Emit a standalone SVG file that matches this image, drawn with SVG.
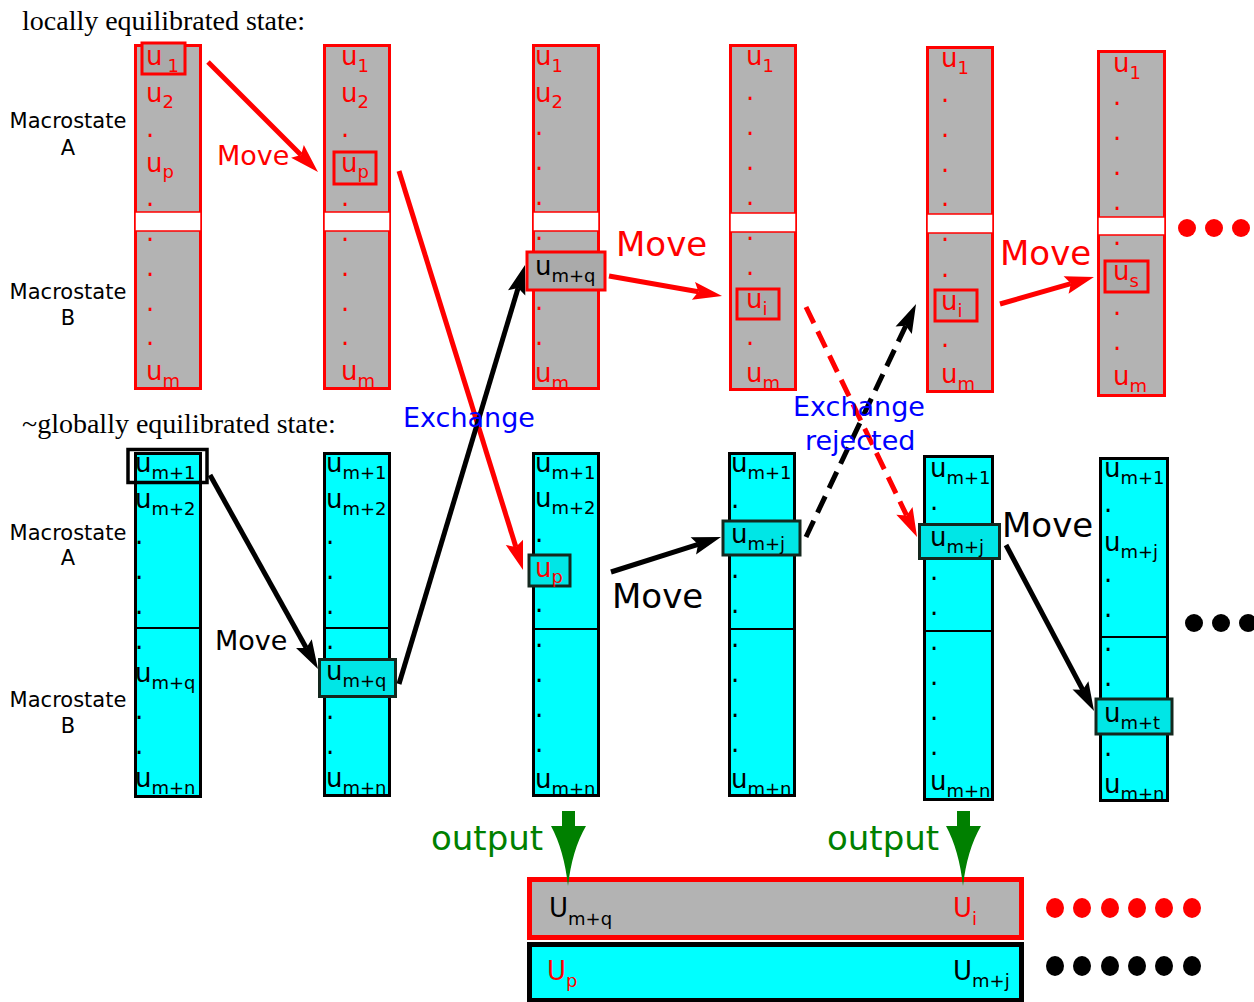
<svg xmlns="http://www.w3.org/2000/svg" width="1254" height="1002" viewBox="0 0 1254 1002">
<style>
.ser{font-family:"Liberation Serif","Times New Roman",serif;font-size:28px;fill:#000}
.lab{font-family:"DejaVu Sans",Verdana,sans-serif;font-size:21px;fill:#000;text-anchor:middle}
.u{font-family:"DejaVu Sans",Verdana,sans-serif;font-size:26px}
.s{font-size:18px}
.r{fill:#ff0000}
.k{fill:#000}
.gcol{fill:#b3b3b3;stroke:#ff0000;stroke-width:3}
.band{fill:#ffffff;stroke:#ff0000;stroke-width:1.5}
.ccol{fill:#00ffff;stroke:#000;stroke-width:3}
.div{stroke:#000;stroke-width:2}
.hr{fill:#aaaaaa;stroke:#ff0000;stroke-width:3}
.hk{fill:#00e6e6;stroke:#14281e;stroke-width:3}
.ar{fill:none;stroke:#ff0000;stroke-width:5}
.ak{fill:none;stroke:#000;stroke-width:5}
.dash{stroke-dasharray:18 9}
.mv{font-family:"DejaVu Sans",Verdana,sans-serif}
</style>
<defs>
<marker id="hr" markerUnits="userSpaceOnUse" orient="auto" markerWidth="40" markerHeight="30" refX="0" refY="0" overflow="visible"><path d="M24,0 L-5,-9 L0,0 L-5,9 Z" fill="#ff0000"/></marker>
<marker id="hk" markerUnits="userSpaceOnUse" orient="auto" markerWidth="40" markerHeight="30" refX="0" refY="0" overflow="visible"><path d="M24,0 L-5,-9 L0,0 L-5,9 Z" fill="#000"/></marker>
</defs>
<rect width="1254" height="1002" fill="#fff"/>

<text class="ser" x="22" y="30">locally equilibrated state:</text>
<text class="ser" x="22" y="433">~globally equilibrated state:</text>

<g id="labels-macro">
<text class="lab" x="68" y="128">Macrostate</text><text class="lab" x="68" y="155">A</text>
<text class="lab" x="68" y="299">Macrostate</text><text class="lab" x="68" y="325">B</text>
<text class="lab" x="68" y="540">Macrostate</text><text class="lab" x="68" y="565">A</text>
<text class="lab" x="68" y="707">Macrostate</text><text class="lab" x="68" y="733">B</text>
</g>

<!-- top row -->
<g id="top1">
<rect class="gcol" x="135.5" y="45.5" width="65" height="343"/>
<rect class="band" x="135" y="212" width="66" height="19"/>
<rect class="hr" x="142" y="43" width="43" height="31"/>
<text class="u r" x="146" y="65">u<tspan class="s" font-size="15" dx="5" dy="7">1</tspan></text>
<text class="u r" x="146" y="102">u<tspan class="s" dy="6">2</tspan></text>
<text class="u r" x="146" y="137">.</text>
<text class="u r" x="146" y="172">u<tspan class="s" dy="6">p</tspan></text>
<text class="u r" x="146" y="206">.</text>
<text class="u r" x="146" y="241">.</text>
<text class="u r" x="146" y="276">.</text>
<text class="u r" x="146" y="311">.</text>
<text class="u r" x="146" y="345">.</text>
<text class="u r" x="146" y="380">u<tspan class="s" dy="7">m</tspan></text>
</g>
<g id="top2">
<rect class="gcol" x="324.5" y="45.5" width="65" height="343"/>
<rect class="band" x="324" y="212" width="66" height="19"/>
<rect class="hr" x="334" y="152" width="42" height="32"/>
<text class="u r" x="341" y="65">u<tspan class="s" dy="7">1</tspan></text>
<text class="u r" x="341" y="102">u<tspan class="s" dy="6">2</tspan></text>
<text class="u r" x="341" y="137">.</text>
<text class="u r" x="341" y="172">u<tspan class="s" dy="6">p</tspan></text>
<text class="u r" x="341" y="206">.</text>
<text class="u r" x="341" y="241">.</text>
<text class="u r" x="341" y="276">.</text>
<text class="u r" x="341" y="311">.</text>
<text class="u r" x="341" y="345">.</text>
<text class="u r" x="341" y="380">u<tspan class="s" dy="7">m</tspan></text>
</g>
<g id="top3">
<rect class="gcol" x="533.5" y="45.5" width="65" height="343"/>
<rect class="band" x="533" y="212" width="66" height="19"/>
<rect class="hr" x="527" y="252" width="78" height="38"/>
<text class="u r" x="535" y="65">u<tspan class="s" dy="7">1</tspan></text>
<text class="u r" x="535" y="102">u<tspan class="s" dy="6">2</tspan></text>
<text class="u r" x="535" y="135">.</text>
<text class="u r" x="535" y="170">.</text>
<text class="u r" x="535" y="205">.</text>
<text class="u r" x="535" y="240">.</text>
<text class="u k" x="535" y="275">u<tspan class="s" dy="7">m+q</tspan></text>
<text class="u r" x="535" y="310">.</text>
<text class="u r" x="535" y="345">.</text>
<text class="u r" x="535" y="382">u<tspan class="s" dy="7">m</tspan></text>
</g>
<g id="top4">
<rect class="gcol" x="730.5" y="45.5" width="65" height="344"/>
<rect class="band" x="730" y="213" width="66" height="19"/>
<rect class="hr" x="737" y="289" width="42" height="30"/>
<text class="u r" x="746" y="65">u<tspan class="s" dy="7">1</tspan></text>
<text class="u r" x="746" y="100">.</text>
<text class="u r" x="746" y="135">.</text>
<text class="u r" x="746" y="170">.</text>
<text class="u r" x="746" y="205">.</text>
<text class="u r" x="746" y="240">.</text>
<text class="u r" x="746" y="275">.</text>
<text class="u r" x="746" y="308">u<tspan class="s" dy="7">i</tspan></text>
<text class="u r" x="746" y="345">.</text>
<text class="u r" x="746" y="382">u<tspan class="s" dy="7">m</tspan></text>
</g>
<g id="top5">
<rect class="gcol" x="927.5" y="47.5" width="65" height="344"/>
<rect class="band" x="927" y="214" width="66" height="19"/>
<rect class="hr" x="935" y="290" width="42" height="31"/>
<text class="u r" x="941" y="67">u<tspan class="s" dy="7">1</tspan></text>
<text class="u r" x="941" y="102">.</text>
<text class="u r" x="941" y="137">.</text>
<text class="u r" x="941" y="172">.</text>
<text class="u r" x="941" y="206">.</text>
<text class="u r" x="941" y="241">.</text>
<text class="u r" x="941" y="277">.</text>
<text class="u r" x="941" y="310">u<tspan class="s" dy="7">i</tspan></text>
<text class="u r" x="941" y="347">.</text>
<text class="u r" x="941" y="383">u<tspan class="s" dy="7">m</tspan></text>
</g>
<g id="top6">
<rect class="gcol" x="1098.5" y="51.5" width="66" height="344"/>
<rect class="band" x="1098" y="217" width="67" height="18"/>
<rect class="hr" x="1105" y="261" width="43" height="31"/>
<text class="u r" x="1113" y="72">u<tspan class="s" dy="7">1</tspan></text>
<text class="u r" x="1113" y="105">.</text>
<text class="u r" x="1113" y="140">.</text>
<text class="u r" x="1113" y="175">.</text>
<text class="u r" x="1113" y="210">.</text>
<text class="u r" x="1113" y="245">.</text>
<text class="u r" x="1113" y="280">u<tspan class="s" dy="7">s</tspan></text>
<text class="u r" x="1113" y="315">.</text>
<text class="u r" x="1113" y="350">.</text>
<text class="u r" x="1113" y="385">u<tspan class="s" dy="7">m</tspan></text>
</g>
<g id="more-top" fill="#ff0000">
<circle cx="1187" cy="228" r="9"/><circle cx="1214" cy="228" r="9"/><circle cx="1241" cy="228" r="9"/>
</g>

<!-- bottom row -->
<g id="bot1">
<rect class="ccol" x="135.5" y="453.5" width="65" height="343"/>
<line class="div" x1="135" y1="628" x2="201" y2="628"/>
<rect x="128" y="449.5" width="79" height="33" fill="none" stroke="#000" stroke-width="3.5"/>
<text class="u k" x="135" y="472">u<tspan class="s" dy="7">m+1</tspan></text>
<text class="u k" x="135" y="508">u<tspan class="s" dy="7">m+2</tspan></text>
<text class="u k" x="135" y="544">.</text>
<text class="u k" x="135" y="579">.</text>
<text class="u k" x="135" y="614">.</text>
<text class="u k" x="135" y="649">.</text>
<text class="u k" x="135" y="682">u<tspan class="s" dy="7">m+q</tspan></text>
<text class="u k" x="135" y="719">.</text>
<text class="u k" x="135" y="754">.</text>
<text class="u k" x="135" y="787">u<tspan class="s" dy="7">m+n</tspan></text>
</g>
<g id="bot2">
<rect class="ccol" x="324.5" y="453.5" width="65" height="342"/>
<line class="div" x1="324" y1="628" x2="390" y2="628"/>
<rect class="hk" x="319.5" y="659.5" width="76" height="37"/>
<text class="u k" x="326" y="472">u<tspan class="s" dy="7">m+1</tspan></text>
<text class="u k" x="326" y="508">u<tspan class="s" dy="7">m+2</tspan></text>
<text class="u k" x="326" y="544">.</text>
<text class="u k" x="326" y="579">.</text>
<text class="u k" x="326" y="614">.</text>
<text class="u k" x="326" y="649">.</text>
<text class="u k" x="326" y="680">u<tspan class="s" dy="7">m+q</tspan></text>
<text class="u k" x="326" y="719">.</text>
<text class="u k" x="326" y="754">.</text>
<text class="u k" x="326" y="787">u<tspan class="s" dy="7">m+n</tspan></text>
</g>
<g id="bot3">
<rect class="ccol" x="533.5" y="453.5" width="65" height="342"/>
<line class="div" x1="533" y1="629" x2="599" y2="629"/>
<rect class="hk" x="529" y="555" width="41" height="31"/>
<text class="u k" x="535" y="472">u<tspan class="s" dy="7">m+1</tspan></text>
<text class="u k" x="535" y="507">u<tspan class="s" dy="7">m+2</tspan></text>
<text class="u k" x="535" y="542">.</text>
<text class="u r" x="535" y="577">u<tspan class="s" dy="6">p</tspan></text>
<text class="u k" x="535" y="612">.</text>
<text class="u k" x="535" y="647">.</text>
<text class="u k" x="535" y="682">.</text>
<text class="u k" x="535" y="717">.</text>
<text class="u k" x="535" y="752">.</text>
<text class="u k" x="535" y="788">u<tspan class="s" dy="7">m+n</tspan></text>
</g>
<g id="bot4">
<rect class="ccol" x="729.5" y="453.5" width="65" height="342"/>
<line class="div" x1="729" y1="629" x2="795" y2="629"/>
<rect class="hk" x="723" y="521" width="77" height="34"/>
<text class="u k" x="731" y="472">u<tspan class="s" dy="7">m+1</tspan></text>
<text class="u k" x="731" y="508">.</text>
<text class="u k" x="731" y="543">u<tspan class="s" dy="7">m+j</tspan></text>
<text class="u k" x="731" y="578">.</text>
<text class="u k" x="731" y="613">.</text>
<text class="u k" x="731" y="647">.</text>
<text class="u k" x="731" y="682">.</text>
<text class="u k" x="731" y="717">.</text>
<text class="u k" x="731" y="752">.</text>
<text class="u k" x="731" y="788">u<tspan class="s" dy="7">m+n</tspan></text>
</g>
<g id="bot5">
<rect class="ccol" x="924.5" y="456.5" width="68" height="343"/>
<line class="div" x1="924" y1="631" x2="993" y2="631"/>
<rect class="hk" x="919.5" y="524.5" width="80" height="34"/>
<text class="u k" x="930" y="477">u<tspan class="s" dy="7">m+1</tspan></text>
<text class="u k" x="930" y="510">.</text>
<text class="u k" x="930" y="546">u<tspan class="s" dy="7">m+j</tspan></text>
<text class="u k" x="930" y="580">.</text>
<text class="u k" x="930" y="615">.</text>
<text class="u k" x="930" y="650">.</text>
<text class="u k" x="930" y="685">.</text>
<text class="u k" x="930" y="720">.</text>
<text class="u k" x="930" y="755">.</text>
<text class="u k" x="930" y="790">u<tspan class="s" dy="7">m+n</tspan></text>
</g>
<g id="bot6">
<rect class="ccol" x="1100.5" y="458.5" width="67" height="342"/>
<line class="div" x1="1100" y1="637" x2="1168" y2="637"/>
<rect class="hk" x="1096" y="699" width="76" height="35"/>
<text class="u k" x="1104" y="477">u<tspan class="s" dy="7">m+1</tspan></text>
<text class="u k" x="1104" y="512">.</text>
<text class="u k" x="1104" y="551">u<tspan class="s" dy="7">m+j</tspan></text>
<text class="u k" x="1104" y="582">.</text>
<text class="u k" x="1104" y="617">.</text>
<text class="u k" x="1104" y="651">.</text>
<text class="u k" x="1104" y="686">.</text>
<text class="u k" x="1104" y="722">u<tspan class="s" dy="7">m+t</tspan></text>
<text class="u k" x="1104" y="756">.</text>
<text class="u k" x="1104" y="793">u<tspan class="s" dy="7">m+n</tspan></text>
</g>
<g id="more-bot" fill="#000">
<circle cx="1194" cy="623" r="9"/><circle cx="1221" cy="623" r="9"/><circle cx="1248" cy="623" r="9"/>
</g>

<!-- output -->
<g id="out-top">
<rect x="529.5" y="879.5" width="492" height="58" fill="#b3b3b3" stroke="#ff0000" stroke-width="5"/>
<text class="u k" x="549" y="917">U<tspan class="s" dy="8">m+q</tspan></text>
<text class="u r" x="953" y="917">U<tspan class="s" dy="8">i</tspan></text>
</g>
<g id="out-bot">
<rect x="529.5" y="944.5" width="492" height="56" fill="#00ffff" stroke="#000" stroke-width="5"/>
<text class="u r" x="547" y="980">U<tspan class="s" dy="7">p</tspan></text>
<text class="u k" x="953" y="980">U<tspan class="s" dy="7">m+j</tspan></text>
</g>
<g id="out-dots-r" fill="#ff0000">
<ellipse cx="1055" cy="908" rx="9" ry="10"/><ellipse cx="1082" cy="908" rx="9" ry="10"/><ellipse cx="1110" cy="908" rx="9" ry="10"/><ellipse cx="1137" cy="908" rx="9" ry="10"/><ellipse cx="1164" cy="908" rx="9" ry="10"/><ellipse cx="1192" cy="908" rx="9" ry="10"/>
</g>
<g id="out-dots-k" fill="#000">
<ellipse cx="1055" cy="966" rx="9" ry="10"/><ellipse cx="1082" cy="966" rx="9" ry="10"/><ellipse cx="1110" cy="966" rx="9" ry="10"/><ellipse cx="1137" cy="966" rx="9" ry="10"/><ellipse cx="1164" cy="966" rx="9" ry="10"/><ellipse cx="1192" cy="966" rx="9" ry="10"/>
</g>

<!-- connectors -->
<g id="connectors">
<line class="ar" x1="208" y1="62" x2="301" y2="155" marker-end="url(#hr)"/>
<line class="ar" x1="399" y1="171" x2="515.9" y2="547.1" marker-end="url(#hr)"/>
<line class="ak" x1="399" y1="684" x2="518.1" y2="288" marker-end="url(#hk)"/>
<line class="ar" x1="609" y1="276" x2="698.4" y2="291.8" marker-end="url(#hr)"/>
<line class="ar dash" x1="806" y1="307" x2="906.6" y2="515.4" marker-end="url(#hr)"/>
<line class="ak dash" x1="806" y1="537" x2="905.8" y2="325.7" marker-end="url(#hk)"/>
<line class="ar" x1="1000" y1="304" x2="1070.9" y2="283.6" marker-end="url(#hr)"/>
<line class="ak" x1="210" y1="475" x2="306.3" y2="648" marker-end="url(#hk)"/>
<line class="ak" x1="611" y1="572" x2="698.1" y2="544.3" marker-end="url(#hk)"/>
<line class="ak" x1="1006" y1="545" x2="1082.8" y2="689.8" marker-end="url(#hk)"/>
<path d="M562,811 L575,811 L575,826 L586,826 Q572,850 568,886 Q564,850 551,826 L562,826 Z" fill="#008000"/>
<path d="M957,811 L970,811 L970,826 L981,826 Q967,850 963,886 Q959,850 946,826 L957,826 Z" fill="#008000"/>
</g>

<!-- connector labels -->
<g id="conn-labels">
<text class="mv r" x="217" y="165" font-size="27">Move</text>
<text class="mv r" x="616" y="256" font-size="34">Move</text>
<text class="mv r" x="1000" y="265" font-size="34">Move</text>
<text class="mv k" x="215" y="650" font-size="27">Move</text>
<text class="mv k" x="612" y="608" font-size="34">Move</text>
<text class="mv k" x="1002" y="537" font-size="34">Move</text>
<text class="mv" x="403" y="427" font-size="27" fill="#0000ff">Exchange</text>
<text class="mv" x="793" y="416" font-size="27" fill="#0000ff">Exchange</text>
<text class="mv" x="805" y="450" font-size="27" fill="#0000ff">rejected</text>
<text class="mv" x="431" y="850" font-size="34" fill="#008000">output</text>
<text class="mv" x="827" y="850" font-size="34" fill="#008000">output</text>
</g>
</svg>
